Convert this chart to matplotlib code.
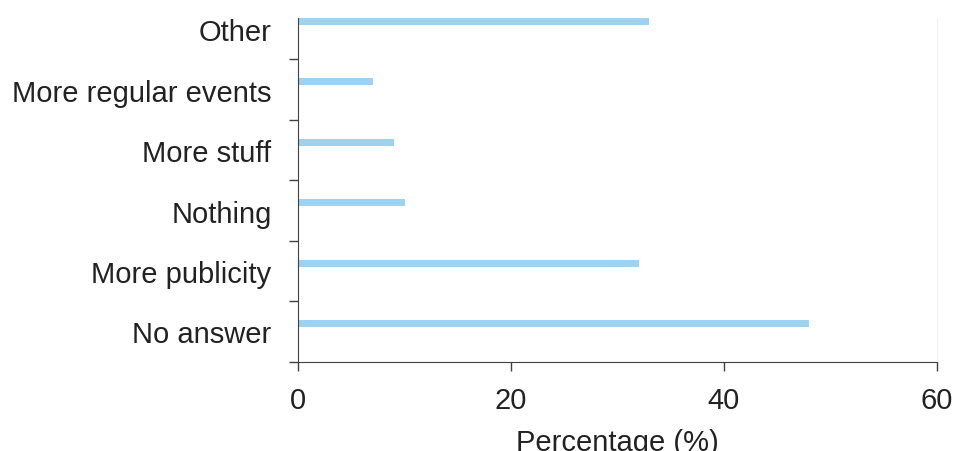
import matplotlib
matplotlib.use("Agg")
import matplotlib.pyplot as plt
from matplotlib.ticker import FixedLocator, NullFormatter, FixedFormatter

plt.rcParams['font.family'] = ['Liberation Sans', 'DejaVu Sans']

# categories bottom -> top
categories = ['No answer', 'More publicity', 'Nothing', 'More stuff',
              'More regular events', 'Other']
values = [48, 32, 10, 9, 7, 33]
xticks = [0, 20, 40, 60]

bar_color = '#9dd3f0'
axis_color = '#404040'

fig = plt.figure(figsize=(9.55, 4.52), dpi=100)
ax = fig.add_axes([298 / 955, 1 - 362.7 / 452, (937 - 298) / 955, 362.7 / 452])

pos = list(range(len(categories)))
ax.barh([p + 0.13 for p in pos], values, height=0.12, color=bar_color, linewidth=0)

ax.set_xlim(0, 60)
ax.set_ylim(-0.5, len(categories) - 0.5)

# category boundaries as major ticks, labels on minor ticks at centres
ax.yaxis.set_major_locator(FixedLocator([p - 0.5 for p in pos]))
ax.yaxis.set_major_formatter(NullFormatter())
ax.yaxis.set_minor_locator(FixedLocator(pos))
ax.yaxis.set_minor_formatter(FixedFormatter(categories))
ax.tick_params(axis='y', which='major', length=6.5, width=1, color=axis_color, direction='out')
ax.tick_params(axis='y', which='minor', length=0, pad=19, labelsize=21, labelcolor='#222222')

ax.set_xticks(xticks)
ax.tick_params(axis='x', length=6.5, width=1, color=axis_color, direction='out',
               pad=11, labelsize=21, labelcolor='#222222')

top_spine = len(categories) - 0.5 - 19 / 60.4
ax.spines['top'].set_visible(False)
ax.spines['left'].set_bounds(-0.5, top_spine)
ax.spines['left'].set_color(axis_color)
ax.spines['bottom'].set_color(axis_color)
ax.spines['right'].set_bounds(-0.5, top_spine)
ax.spines['right'].set_color('#f2f2f2')

ax.set_xlabel('Percentage (%)', fontsize=21, color='#222222', va='top')
ax.xaxis.set_label_coords(0.5, -(429 - 362.7) / 362.7)

fig.savefig('out.png', dpi=100)
